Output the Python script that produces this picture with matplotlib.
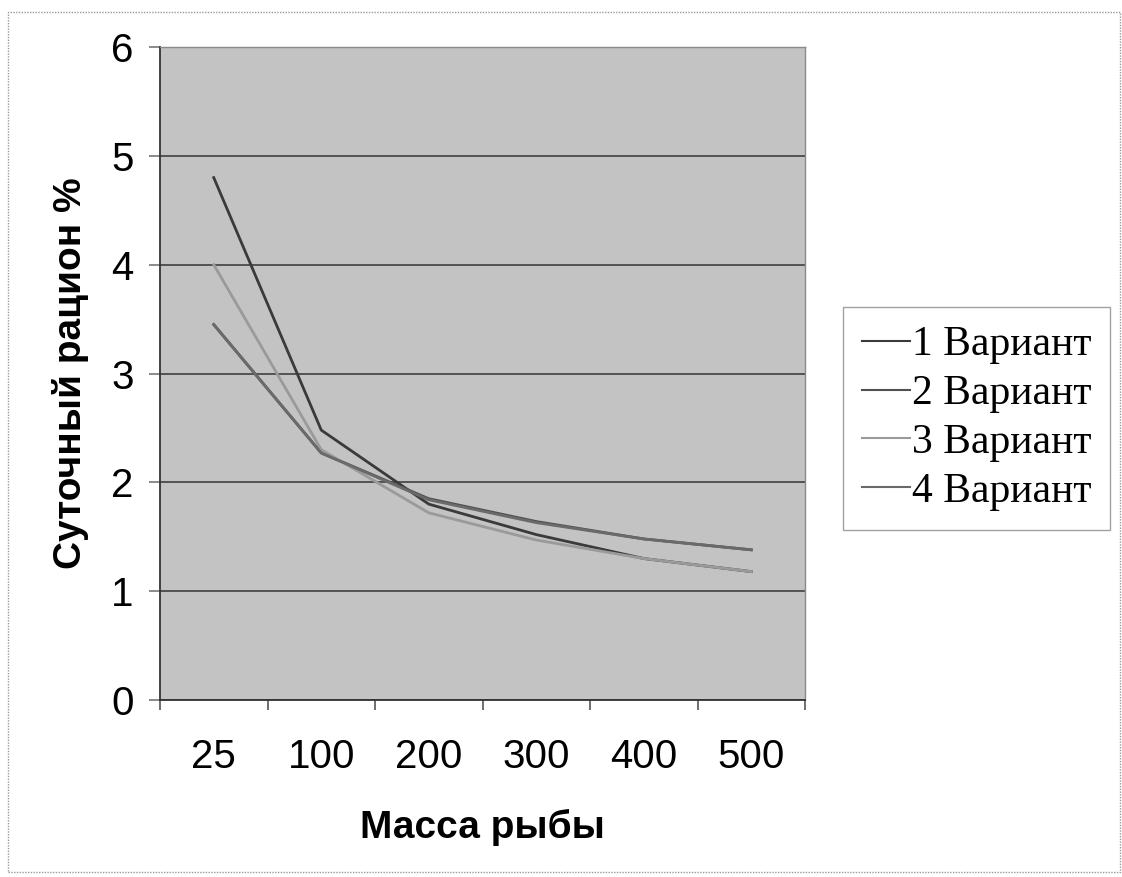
import matplotlib
matplotlib.use("Agg")
import matplotlib.pyplot as plt
from matplotlib.patches import Rectangle

categories = ["25", "100", "200", "300", "400", "500"]
series_names = ["1 Вариант", "2 Вариант", "3 Вариант", "4 Вариант"]
v1 = [4.8, 2.48, 1.8, 1.52, 1.3, 1.18]
v2 = [3.45, 2.27, 1.85, 1.64, 1.48, 1.38]
v3 = [4.0, 2.3, 1.72, 1.47, 1.3, 1.18]
v4 = [3.45, 2.27, 1.84, 1.63, 1.48, 1.38]
series = [v1, v2, v3, v4]
colors = ["#3a3a3a", "#505050", "#9a9a9a", "#6a6a6a"]
yticks = [0, 1, 2, 3, 4, 5, 6]

fig = plt.figure(figsize=(11.22, 8.77), dpi=100)
fig.patch.set_facecolor("white")
fig.patches.append(Rectangle((0.007, 0.006), 0.991, 0.980, transform=fig.transFigure,
                             fill=False, edgecolor="#9a9a9a", linewidth=1.0, linestyle=(0, (1, 1))))

ax = fig.add_axes([0.1426, 0.2018, 0.5749, 0.7446])
ax.set_facecolor("#c3c3c3")
x = list(range(len(categories)))
for vals, c, name in zip(series, colors, series_names):
    ax.plot(x, vals, color=c, linewidth=2.0, label=name)

ax.set_xlim(-0.5, len(categories) - 0.5)
ax.set_ylim(0, 6)
ax.set_yticks(yticks)
ax.set_yticklabels([str(t) for t in yticks], fontfamily="Liberation Sans", fontsize=29)
ax.yaxis.grid(True, color="#4a4a4a", linewidth=1.3)
ax.set_axisbelow(True)
ax.set_xticks(x)
ax.set_xticklabels(categories, fontfamily="Liberation Sans", fontsize=29)
ax.set_xticks([i - 0.5 for i in range(len(categories) + 1)], minor=True)
ax.tick_params(axis="x", which="major", length=0, pad=27)
ax.tick_params(axis="x", which="minor", length=7, width=1.2, color="#555555")
ax.tick_params(axis="y", which="major", length=8, width=1.2, color="#777777", pad=11)

for s in ["top", "right"]:
    ax.spines[s].set_color("#8a8a8a")
    ax.spines[s].set_linewidth(1.0)
for s in ["left", "bottom"]:
    ax.spines[s].set_color("#333333")
    ax.spines[s].set_linewidth(1.3)

ax.set_xlabel("Масса рыбы", fontfamily="Liberation Sans", fontweight="bold", fontsize=28, labelpad=24)
ax.set_ylabel("Суточный рацион %", fontfamily="Liberation Sans", fontweight="bold", fontsize=28, labelpad=16)

leg = fig.legend(loc="upper left", bbox_to_anchor=(843 / 1122, 1 - 307 / 877),
                 prop={"family": "Liberation Serif", "size": 30},
                 frameon=True, fancybox=False, handlelength=1.15, handletextpad=0.05,
                 labelspacing=0.25, borderpad=0.45, borderaxespad=0)
leg.get_frame().set_edgecolor("#8a8a8a")
leg.get_frame().set_linewidth(1.0)
for line in leg.get_lines():
    line.set_linewidth(1.5)

fig.savefig("out.png", dpi=100, facecolor="white")
